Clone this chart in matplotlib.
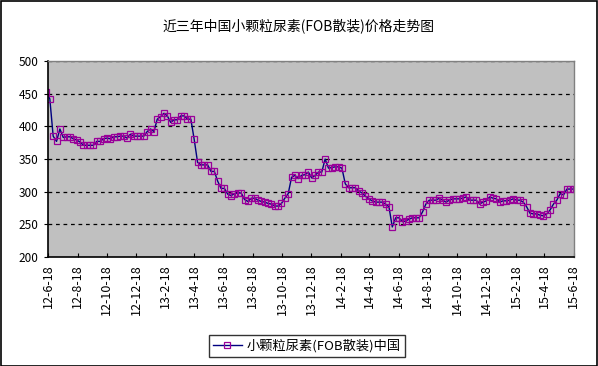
import matplotlib
matplotlib.use('Agg')
import matplotlib.pyplot as plt
import matplotlib.dates as mdates
from matplotlib.patches import Rectangle
import pandas as pd

plt.rcParams['font.family'] = ['Noto Sans CJK SC', 'DejaVu Sans']

title = '近三年中国小颗粒尿素(FOB散装)价格走势图'
series_name = '小颗粒尿素(FOB散装)中国'

# weekly prices, 2012-06 .. 2015-06
prices = [
    452, 442, 385, 377, 396, 383, 384, 384, 381, 379, 376, 371, 371, 371,
    371, 377, 377, 381, 382, 381, 384, 384, 385, 385, 382, 388, 385,
    385, 385, 385, 392, 396, 392, 411, 415, 420, 416, 406, 410, 410, 416,
    416, 411, 411, 380, 345, 341, 341, 341, 331, 331, 316, 305,
    305, 296, 294, 297, 298, 298, 288, 285, 290, 290, 287, 285, 284, 282,
    281, 278, 278, 282, 290, 297, 322, 325, 320, 325, 326, 330,
    321, 325, 330, 330, 350, 336, 337, 338, 338, 336, 312, 306, 306, 306,
    301, 298, 293, 289, 286, 284, 284, 284, 281, 277, 246, 260,
    260, 254, 255, 258, 260, 260, 260, 269, 281, 287, 287, 287, 290, 287,
    284, 287, 289, 289, 289, 290, 292, 287, 287, 287, 281,
    284, 286, 292, 290, 289, 284, 286, 286, 287, 289, 287, 287, 284, 277,
    267, 266, 266, 264, 263, 266, 272, 281, 287, 297, 295, 304, 304, 304,
]
dates = pd.date_range('2012-06-14', periods=len(prices), freq='7D')

x_start = pd.Timestamp('2012-06-18')
x_end = pd.Timestamp('2015-06-18')
x_ticks = pd.date_range(x_start, x_end, freq=pd.DateOffset(months=2))
y_ticks = [200, 250, 300, 350, 400, 450, 500]

fig = plt.figure(figsize=(5.98, 3.66), dpi=100)
fig.patch.set_facecolor('white')
fig.add_artist(Rectangle((0.001, 0.001), 0.997, 0.996, transform=fig.transFigure,
                         fill=False, edgecolor='black', linewidth=1.2))

ax = fig.add_axes([0.0809, 0.2978, 0.8783, 0.5355])
ax.set_facecolor('#C0C0C0')

ax.plot(dates, prices, color='#000080', linewidth=1.0,
        marker='s', markersize=3.8, markerfacecolor='none',
        markeredgecolor='#990099', markeredgewidth=0.9, label=series_name)

ax.set_xlim(x_start, x_end)
ax.set_ylim(200, 500)
ax.set_yticks(y_ticks)
ax.set_xticks(x_ticks)
ax.xaxis.set_major_formatter(plt.FuncFormatter(
    lambda v, p: (lambda d: f'{d.year % 100}-{d.month}-{d.day}')(mdates.num2date(v))))

for y in y_ticks[1:]:
    ax.axhline(y, color='black', linewidth=0.9, linestyle=(0, (3, 3)), zorder=1)

ax.tick_params(axis='x', direction='in', length=3, width=0.8, labelsize=9,
               labelrotation=90, pad=5)
ax.tick_params(axis='y', direction='out', length=3, width=0.8, labelsize=8.5, pad=4)

for s in ['left', 'bottom']:
    ax.spines[s].set_color('black')
    ax.spines[s].set_linewidth(1.2)
for s in ['top', 'right']:
    ax.spines[s].set_color('#808080')
    ax.spines[s].set_linewidth(1.0)

fig.text(0.5, 1 - 26 / 366, title, ha='center', va='center', fontsize=10)

leg = fig.legend(loc='center', bbox_to_anchor=(0.513, 0.0546), fontsize=9.5,
                 frameon=True, fancybox=False, handlelength=2.2,
                 borderpad=0.3, handletextpad=0.4)
leg.get_frame().set_edgecolor('black')
leg.get_frame().set_linewidth(1.0)

fig.savefig('out.png', dpi=100)
